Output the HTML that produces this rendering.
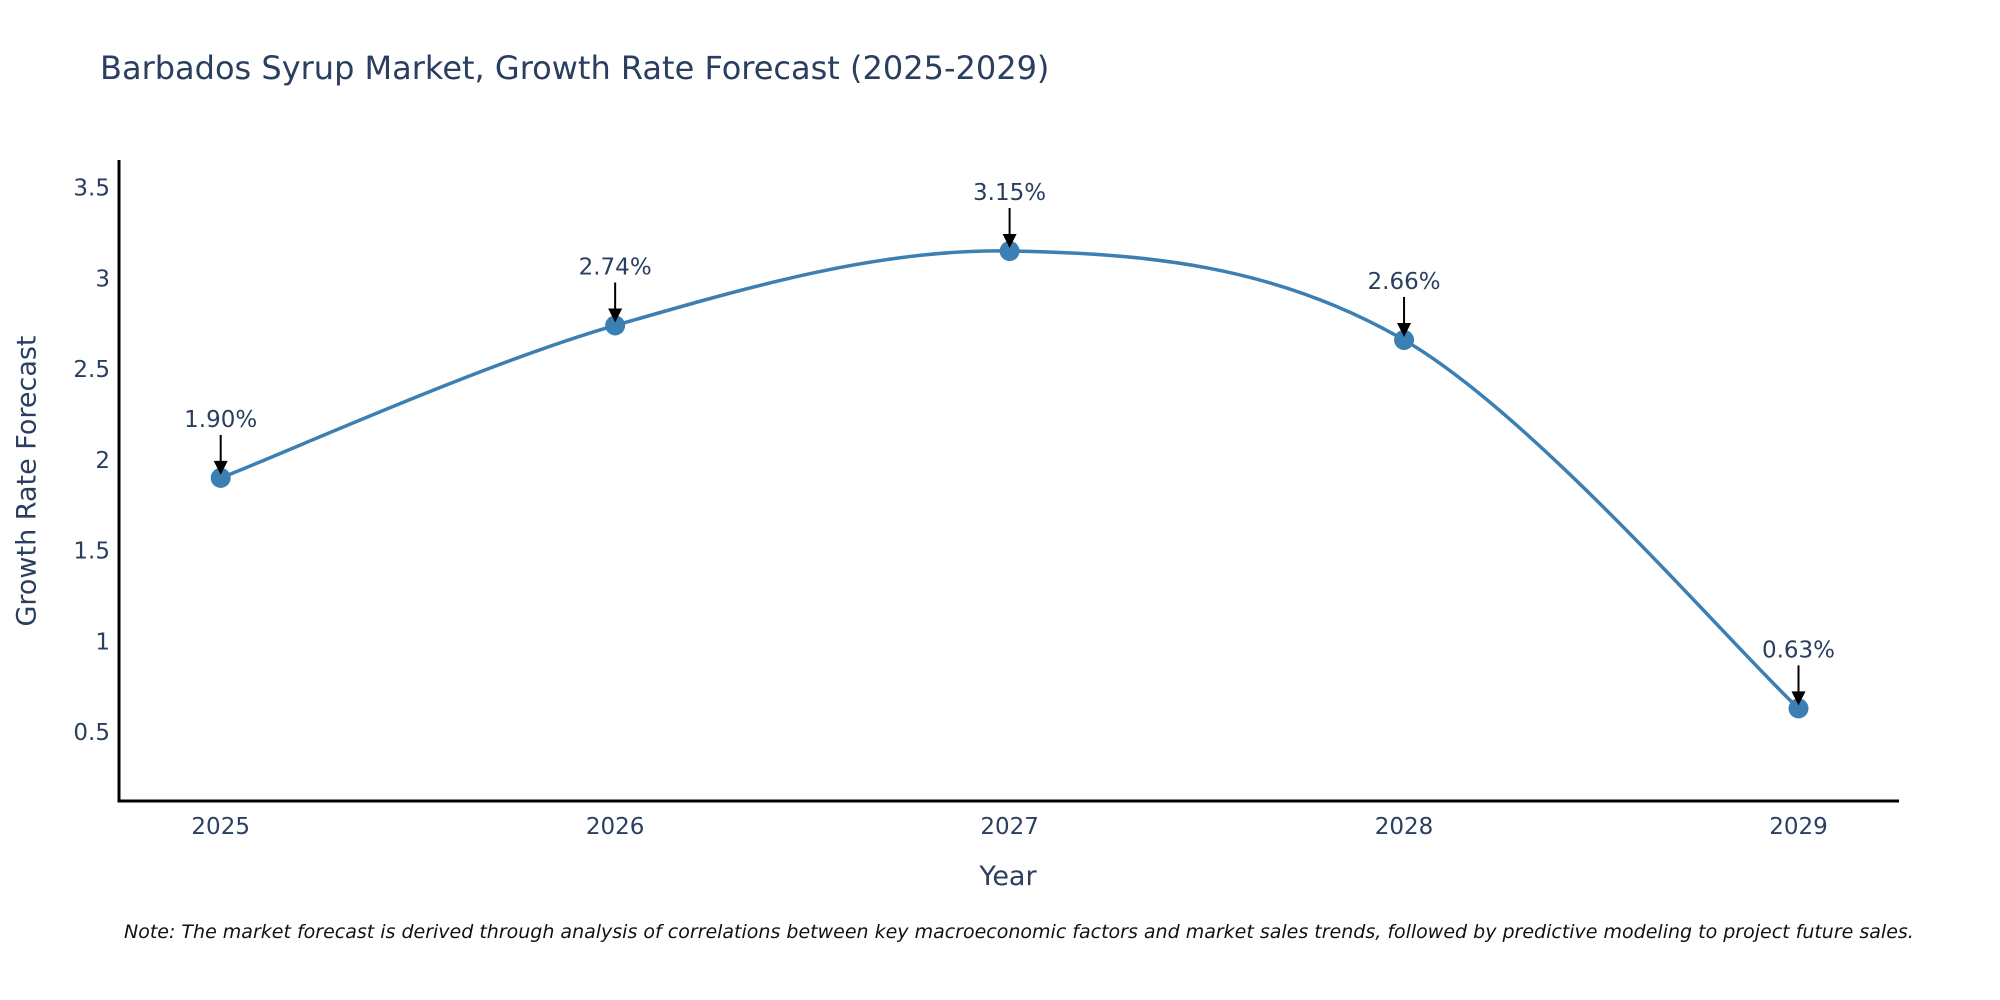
<!DOCTYPE html>
<html><head><meta charset="utf-8"><style>
html,body{margin:0;padding:0;background:#fff;}
svg{display:block;font-family:"DejaVu Sans","Liberation Sans",sans-serif;}
</style></head><body>
<svg id="chart" width="2000" height="1000" viewBox="0 0 2000 1000">
<text x="100" y="79" font-size="32" fill="#2a3f5f">Barbados Syrup Market, Growth Rate Forecast (2025-2029)</text>
<g id="yticks"></g>
<g id="xticks"></g>
<path id="line" fill="none" stroke="#3b7fb3" stroke-width="3.5"/>
<g id="points"></g>
<g id="annots"></g>
<line x1="119" y1="160" x2="119" y2="802" stroke="#000" stroke-width="3"/>
<line x1="117.5" y1="801" x2="1899" y2="801" stroke="#000" stroke-width="3"/>
<text x="1008" y="885" font-size="27" fill="#2a3f5f" text-anchor="middle">Year</text>
<text transform="translate(27,481) rotate(-90)" font-size="27" fill="#2a3f5f" text-anchor="middle" dominant-baseline="central">Growth Rate Forecast</text>
<text x="124" y="938" font-size="19" font-style="italic" fill="#111">Note: The market forecast is derived through analysis of correlations between key macroeconomic factors and market sales trends, followed by predictive modeling to project future sales.</text>
</svg>
<script>
const years = [2025, 2026, 2027, 2028, 2029];
const growthValues = [1.90, 2.74, 3.15, 2.66, 0.63];
const valueLabels = ["1.90%", "2.74%", "3.15%", "2.66%", "0.63%"];
const yTickValues = [0.5, 1, 1.5, 2, 2.5, 3, 3.5];
const yTickLabels = ["0.5", "1", "1.5", "2", "2.5", "3", "3.5"];

const NS = "http://www.w3.org/2000/svg";
function xScale(v){ return 220.7 + (v - 2025) * (1798.5 - 220.7) / 4; }
function yScale(v){ return 732 - (v - 0.5) * 181.5; }
function mk(tag, attrs, parent){ const e=document.createElementNS(NS,tag); for(const k in attrs) e.setAttribute(k, attrs[k]); parent.appendChild(e); return e; }

const yt = document.getElementById('yticks');
yTickValues.forEach((v,i)=>{
  const t = mk('text',{x:110,y:yScale(v)+8,'font-size':23,fill:'#2a3f5f','text-anchor':'end'},yt);
  
  
  t.textContent = yTickLabels[i];
});
const xt = document.getElementById('xticks');
years.forEach(y=>{
  const t = mk('text',{x:xScale(y),y:834,'font-size':23,fill:'#2a3f5f','text-anchor':'middle'},xt);
  
  
  t.textContent = String(y);
});

const pts = years.map((y,i)=>[xScale(y), yScale(growthValues[i])]);
let d = "M"+pts[0][0]+","+pts[0][1];
for(let i=0;i<pts.length-1;i++){
  const p0=pts[Math.max(0,i-1)], p1=pts[i], p2=pts[i+1], p3=pts[Math.min(pts.length-1,i+2)];
  const c1=[p1[0]+(p2[0]-p0[0])/6, p1[1]+(p2[1]-p0[1])/6];
  const c2=[p2[0]-(p3[0]-p1[0])/6, p2[1]-(p3[1]-p1[1])/6];
  d += " C"+c1[0]+","+c1[1]+" "+c2[0]+","+c2[1]+" "+p2[0]+","+p2[1];
}
document.getElementById('line').setAttribute('d', d);

const pg = document.getElementById('points');
const ag = document.getElementById('annots');
pts.forEach((p,i)=>{
  const c = mk('circle',{cx:p[0],cy:p[1],r:10,fill:'#3b7fb3'},pg);
  
  
  const l = mk('line',{x1:p[0],y1:p[1]-43,x2:p[0],y2:p[1]-14,stroke:'#000','stroke-width':2},ag);
  
  
  const h = mk('path',{d:`M${p[0]-7},${p[1]-17} L${p[0]+7},${p[1]-17} L${p[0]},${p[1]-3} Z`,fill:'#000'},ag);
  
  
  const t = mk('text',{x:p[0],y:p[1]-51,'font-size':23,fill:'#2a3f5f','text-anchor':'middle'},ag);
  
  
  t.textContent = valueLabels[i];
});
</script>
</body></html>
